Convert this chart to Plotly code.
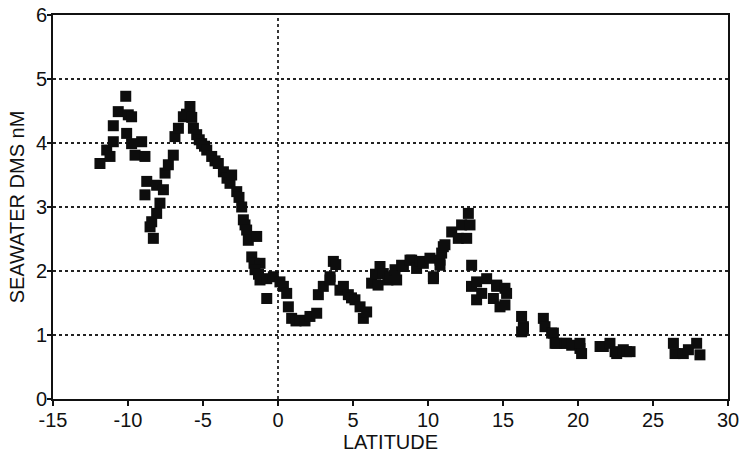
import plotly.graph_objects as go

lat = [-11.87, -11.42, -11.2, -10.98, -10.98, -10.65, -10.15, -10.09, -9.98, -9.76,
       -9.76, -9.53, -9.09, -8.87, -8.87, -8.75, -8.53, -8.42, -8.31, -8.09,
       -8.09, -7.87, -7.64, -7.53, -7.31, -6.98, -6.87, -6.64, -6.31, -6.1,
       -5.87, -5.75, -5.64, -5.42, -5.25, -5.09, -4.9, -4.75, -4.42, -4.2,
       -3.98, -3.64, -3.4, -3.2, -3.09, -2.75, -2.6, -2.42, -2.31, -2.2,
       -2.09, -1.98, -1.42, -1.75, -1.6, -1.2, -1.53, -1.3, -1.2, -0.75,
       -0.31, -0.75, 0.13, 0.36, 0.58, 0.69, 0.91, 1.2, 1.47, 1.8,
       2.13, 2.58, 2.69, 3.02, 3.47, 3.47, 3.69, 3.85, 4.13, 4.36,
       4.69, 4.9, 5.13, 5.47, 5.69, 5.91, 6.24, 6.5, 6.67, 6.8,
       7.02, 7.33, 7.47, 7.8, 7.91, 8.24, 8.36, 8.8, 8.91, 9.24,
       9.47, 9.69, 10.13, 10.36, 10.36, 10.8, 10.8, 10.91, 11.02, 11.13,
       11.58, 12.02, 12.24, 12.58, 12.69, 12.8, 12.91, 12.9, 13.24, 13.24,
       13.58, 13.91, 14.36, 14.58, 14.58, 14.8, 15.13, 15.13, 15.24, 16.24,
       16.36, 16.24, 16.36, 17.69, 17.8, 18.24, 18.36, 18.47, 18.58, 19.13,
       19.24, 19.58, 20.13, 20.13, 20.24, 21.47, 21.69, 22.13, 22.47, 22.58,
       23.02, 23.24, 23.47, 26.36, 26.47, 27.02, 27.36, 27.91, 28.13]

dms = [3.68, 3.89, 3.79, 4.02, 4.27, 4.49, 4.73, 4.15, 4.44, 4.41,
       3.99, 3.81, 4.02, 3.79, 3.19, 3.40, 2.69, 2.77, 2.51, 3.34,
       2.90, 3.06, 3.27, 3.53, 3.66, 3.81, 4.10, 4.23, 4.41, 4.45,
       4.57, 4.40, 4.23, 4.13, 4.05, 3.99, 3.95, 3.89, 3.79, 3.72,
       3.68, 3.55, 3.45, 3.37, 3.50, 3.24, 3.15, 3.00, 2.80, 2.72,
       2.64, 2.48, 2.54, 2.22, 2.12, 2.12, 2.02, 1.95, 1.86, 1.88,
       1.91, 1.57, 1.83, 1.76, 1.65, 1.44, 1.26, 1.22, 1.23, 1.22,
       1.29, 1.34, 1.63, 1.76, 1.91, 1.86, 2.15, 2.10, 1.70, 1.76,
       1.63, 1.58, 1.55, 1.44, 1.26, 1.36, 1.81, 1.95, 1.78, 2.07,
       1.96, 1.86, 1.91, 2.02, 1.86, 2.09, 2.07, 2.17, 2.17, 2.04,
       2.15, 2.12, 2.20, 1.91, 1.88, 2.17, 2.09, 2.28, 2.38, 2.41,
       2.61, 2.51, 2.72, 2.51, 2.90, 2.72, 2.09, 1.76, 1.83, 1.55,
       1.65, 1.88, 1.57, 1.78, 1.76, 1.44, 1.73, 1.47, 1.65, 1.29,
       1.13, 1.05, 1.10, 1.26, 1.13, 1.03, 1.03, 0.87, 0.87, 0.87,
       0.87, 0.84, 0.79, 0.87, 0.71, 0.82, 0.82, 0.87, 0.74, 0.71,
       0.77, 0.74, 0.74, 0.87, 0.71, 0.71, 0.77, 0.87, 0.69]

x_ticks = [-15, -10, -5, 0, 5, 10, 15, 20, 25, 30]
y_ticks = [0, 1, 2, 3, 4, 5, 6]

fig = go.Figure()
fig.add_trace(go.Scatter(
    x=lat, y=dms, mode="markers",
    marker=dict(symbol="square", size=11, color="#0d0d0d", line=dict(width=0)),
    showlegend=False, hoverinfo="skip", cliponaxis=False,
))

fig.add_shape(type="line", xref="x", yref="paper", x0=0, x1=0, y0=0, y1=1,
              line=dict(color="#222222", width=1.8, dash="dot"), layer="below")

font = dict(family="Liberation Sans, Arial, sans-serif", size=20, color="#111111")

fig.update_layout(
    width=743, height=455,
    margin=dict(l=53, r=15, t=15, b=56, autoexpand=False),
    paper_bgcolor="white", plot_bgcolor="white",
    font=font,
    xaxis=dict(
        range=[-15, 30], tickvals=x_ticks, ticktext=[str(v) for v in x_ticks],
        showgrid=False, zeroline=False, automargin=False,
        showline=True, linecolor="#111111", linewidth=2, mirror=True,
        ticks="outside", ticklen=5, tickwidth=1.5, tickcolor="#111111",
        ticklabelstandoff=-3,
        title=dict(text="LATITUDE", standoff=0, font=font),
    ),
    yaxis=dict(
        range=[0, 6], tickvals=y_ticks, ticktext=[str(v) for v in y_ticks],
        showgrid=True, gridcolor="#222222", gridwidth=1.8, griddash="dot",
        zeroline=False, automargin=False,
        showline=True, linecolor="#111111", linewidth=2, mirror=True,
        ticks="outside", ticklen=4, tickwidth=1.5, tickcolor="#111111",
        ticklabelstandoff=-4,
        title=dict(text="SEAWATER DMS nM", standoff=6, font=font),
    ),
)

fig.write_html(
    "out.html",
    config={"displayModeBar": False, "staticPlot": True},
    post_script="document.body.style.margin='0';document.body.style.overflow='hidden';",
)
